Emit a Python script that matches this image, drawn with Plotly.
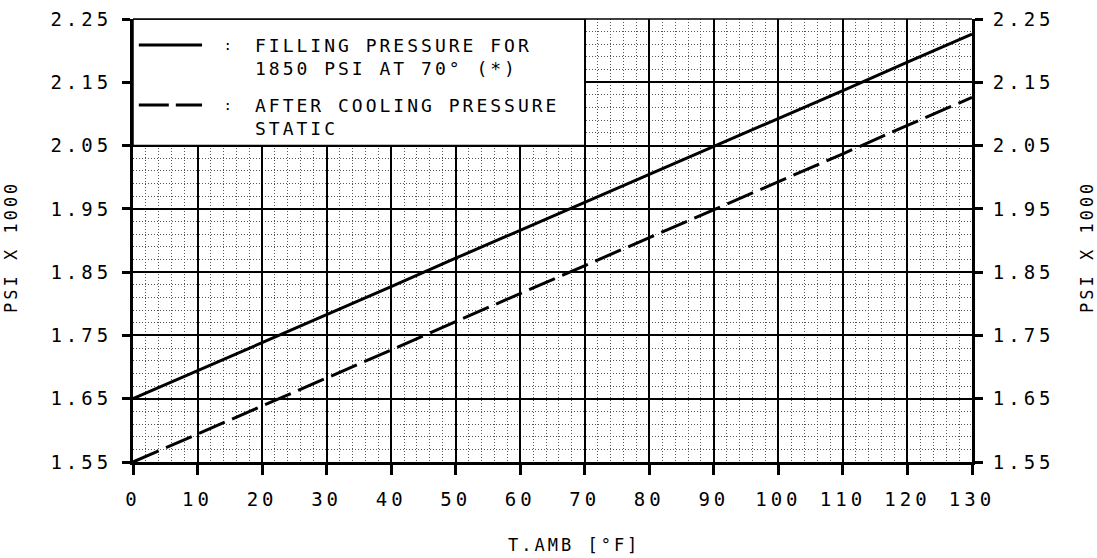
import plotly.graph_objects as go

# Data
temp_f = [0, 10, 20, 30, 40, 50, 60, 70, 80, 90, 100, 110, 120, 130]
filling_pressure = [1.650, 1.694, 1.739, 1.783, 1.827, 1.872, 1.916, 1.960,
                    2.004, 2.049, 2.093, 2.137, 2.182, 2.226]
after_cooling = [1.550, 1.594, 1.639, 1.683, 1.727, 1.772, 1.816, 1.860,
                 1.904, 1.949, 1.993, 2.037, 2.082, 2.126]
x_ticks = list(range(0, 131, 10))
y_ticks = [1.55, 1.65, 1.75, 1.85, 1.95, 2.05, 2.15, 2.25]
legend_labels = ["FILLING PRESSURE FOR<br>1850 PSI AT 70° (*)",
                 "AFTER COOLING PRESSURE<br>STATIC"]
x_title = "T.AMB [°F]"
y_title = "PSI X 1000"

FONT = "DejaVu Sans Mono"
L, R, T, B = 133, 125, 19, 96
W, H = 1097, 558
PW, PH = W - L - R, H - T - B

fig = go.Figure()
fig.add_trace(go.Scatter(x=temp_f, y=filling_pressure, mode="lines",
                         line=dict(color="black", width=3), showlegend=False))
fig.add_trace(go.Scatter(x=temp_f, y=after_cooling, mode="lines",
                         line=dict(color="black", width=3, dash="28px,8px"),
                         showlegend=False))
# invisible trace for right axis
fig.add_trace(go.Scatter(x=[temp_f[0]], y=[y_ticks[0]], yaxis="y2", mode="markers",
                         marker=dict(opacity=0), showlegend=False, hoverinfo="skip"))

xr = [0, 130]
yr = [1.55, 2.25]
minor_style = dict(showgrid=True, gridcolor="#555", gridwidth=1, griddash="1px,2px")

fig.update_layout(
    width=W, height=H,
    margin=dict(l=L, r=R, t=T, b=B, autoexpand=False),
    paper_bgcolor="white", plot_bgcolor="white",
    font=dict(family=FONT, color="black", size=19),
    xaxis=dict(range=xr, tickvals=x_ticks, ticks="outside", ticklen=10, tickwidth=3,
               tickcolor="black", showline=True, linewidth=3, linecolor="black",
               showgrid=True, gridcolor="black", gridwidth=1.5, zeroline=False,
               ticklabelstandoff=8, automargin=False,
               minor=dict(dtick=2, tick0=0, **minor_style),
               layer="above traces"),
    yaxis=dict(range=yr, tickvals=y_ticks, tickformat=".2f", ticks="outside",
               ticklen=8, tickwidth=3, tickcolor="black", showline=True, linewidth=3,
               linecolor="black", showgrid=True, gridcolor="black", gridwidth=1.5,
               zeroline=False, ticklabelstandoff=6, automargin=False,
               minor=dict(dtick=0.02, tick0=1.55, **minor_style),
               layer="above traces"),
    yaxis2=dict(range=yr, tickvals=y_ticks, tickformat=".2f", overlaying="y",
                side="right", ticks="outside", ticklen=8, tickwidth=3,
                tickcolor="black", showline=True, linewidth=3, linecolor="black",
                showgrid=False, zeroline=False, ticklabelstandoff=6, automargin=False,
                layer="above traces"),
    showlegend=False,
)

# legend box (white, covering grid)
fig.add_shape(type="rect", x0=0, x1=70, y0=2.05, y1=2.25, xref="x", yref="y",
              fillcolor="white", line=dict(color="black", width=1.5), layer="between")
# top border
fig.add_shape(type="line", x0=0, x1=1, y0=1, y1=1, xref="paper", yref="paper",
              line=dict(color="black", width=1.5))

# legend samples
fig.add_shape(type="line", x0=0.9, x1=10.7, y0=2.209, y1=2.209, xref="x", yref="y",
              line=dict(color="black", width=3))
fig.add_shape(type="line", x0=0.9, x1=10.7, y0=2.114, y1=2.114, xref="x", yref="y",
              line=dict(color="black", width=3, dash="30px,7px"))

for yv, lbl in zip([2.209, 2.114], legend_labels):
    fig.add_annotation(x=14.9, y=yv, xref="x", yref="y", text=":", showarrow=False,
                       font=dict(size=14, family=FONT), xanchor="center", yanchor="middle")
    fig.add_annotation(x=18.6, y=yv + 0.019, xref="x", yref="y", text=lbl,
                       showarrow=False, align="left", xanchor="left", yanchor="top",
                       font=dict(size=18, family=FONT))

# axis titles
fig.add_annotation(text=x_title, xref="paper", yref="paper",
                   x=(574 - L) / PW, y=-(545 - (T + PH)) / PH,
                   showarrow=False, font=dict(size=17, family=FONT),
                   xanchor="center", yanchor="middle")
fig.add_annotation(text=y_title, xref="paper", yref="paper", x=-(L - 11) / PW,
                   y=1 - (247 - T) / PH, textangle=-90, showarrow=False, xanchor="center",
                   yanchor="middle", font=dict(size=17, family=FONT))
fig.add_annotation(text=y_title, xref="paper", yref="paper", x=1 + (1087 - (L + PW)) / PW,
                   y=1 - (247 - T) / PH, textangle=-90, showarrow=False, xanchor="center",
                   yanchor="middle", font=dict(size=17, family=FONT))

post = """
document.documentElement.style.margin='0';
document.body.style.margin='0';
document.body.style.overflow='hidden';
var gd = document.getElementById('{plot_id}');
function spacing(){
  gd.querySelectorAll('.xtick text, .ytick text, .y2tick text').forEach(function(t){t.style.letterSpacing='4px';});
  gd.querySelectorAll('.annotation-text').forEach(function(t){t.style.letterSpacing='3px';});
}
spacing();
gd.on('plotly_afterplot', spacing);
setTimeout(spacing, 50);
"""

fig.write_html("out.html", post_script=post, config={"displayModeBar": False})
